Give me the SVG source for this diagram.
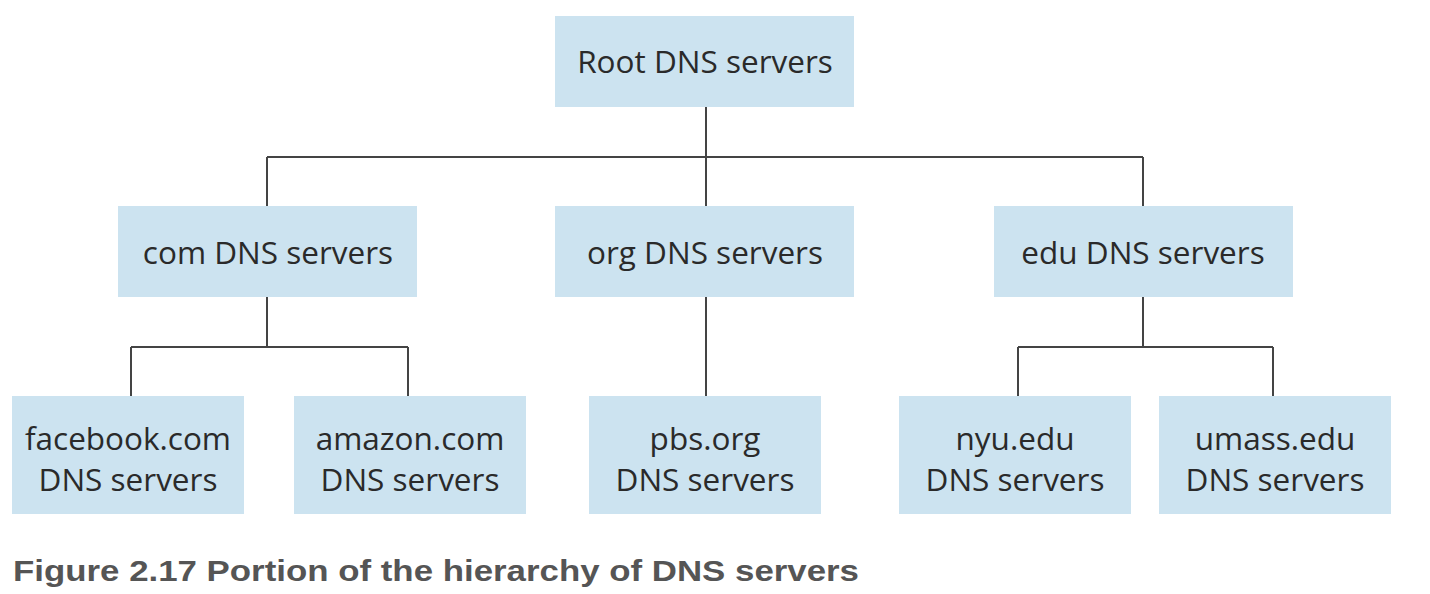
<svg xmlns="http://www.w3.org/2000/svg" width="1430" height="594" viewBox="0 0 1430 594">
<style>
.box{fill:#cce3f0}
.t{font-family:"Open Sans","Noto Sans",sans-serif;font-size:31.5px;fill:#2a2a2a;text-anchor:middle}
.ln{stroke:#444;stroke-width:2;fill:none}
.cap{font-family:"Liberation Sans",Arial,sans-serif;font-weight:bold;font-size:29px;fill:#555}
</style>
<rect width="1430" height="594" fill="#fff"/>
<g id="connectors">
<path class="ln" d="M706 107V396M267 157H1143M267 157V206M1143 157V206"/>
<path class="ln" d="M267 297V347M131 347H408M131 347V396M408 347V396"/>
<path class="ln" d="M1143 297V347M1018 347H1273M1018 347V396M1273 347V396"/>
</g>
<g id="root"><rect class="box" x="555" y="16" width="299" height="91"/><text class="t" x="705" y="73">Root DNS servers</text></g>
<g id="com"><rect class="box" x="118" y="206" width="299" height="91"/><text class="t" x="268" y="264">com DNS servers</text></g>
<g id="org"><rect class="box" x="555" y="206" width="299" height="91"/><text class="t" x="705" y="264">org DNS servers</text></g>
<g id="edu"><rect class="box" x="994" y="206" width="299" height="91"/><text class="t" x="1143" y="264">edu DNS servers</text></g>
<g id="facebook"><rect class="box" x="12" y="396" width="232" height="118"/><text class="t" x="128" y="450">facebook.com</text><text class="t" x="128" y="491">DNS servers</text></g>
<g id="amazon"><rect class="box" x="294" y="396" width="232" height="118"/><text class="t" x="410" y="450">amazon.com</text><text class="t" x="410" y="491">DNS servers</text></g>
<g id="pbs"><rect class="box" x="589" y="396" width="232" height="118"/><text class="t" x="705" y="450">pbs.org</text><text class="t" x="705" y="491">DNS servers</text></g>
<g id="nyu"><rect class="box" x="899" y="396" width="232" height="118"/><text class="t" x="1015" y="450">nyu.edu</text><text class="t" x="1015" y="491">DNS servers</text></g>
<g id="umass"><rect class="box" x="1159" y="396" width="232" height="118"/><text class="t" x="1275" y="450">umass.edu</text><text class="t" x="1275" y="491">DNS servers</text></g>
<text class="cap" x="13" y="581" textLength="846" lengthAdjust="spacingAndGlyphs">Figure 2.17 Portion of the hierarchy of DNS servers</text>
</svg>
